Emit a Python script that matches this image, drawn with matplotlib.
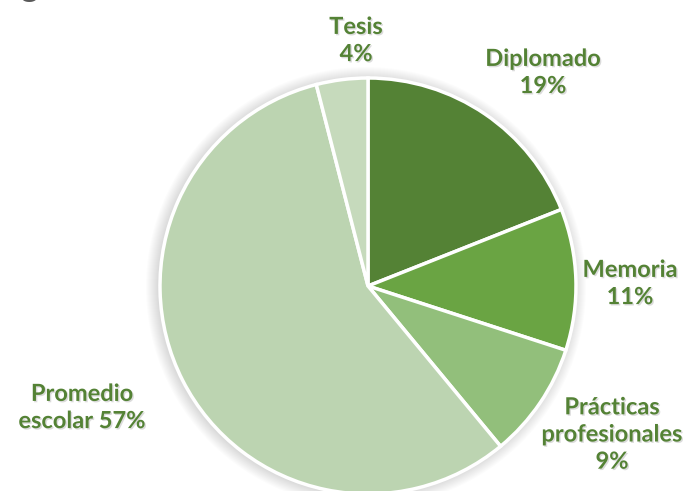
import numpy as np
import matplotlib.pyplot as plt
import matplotlib.patheffects as pe
from matplotlib.patches import Circle

# Modalidades de titulacion (porcentaje)
categorias = ["Diplomado", "Memoria", "Prácticas\nprofesionales", "Promedio\nescolar", "Tesis"]
porcentajes = [19, 11, 9, 57, 4]
separador = ["\n", "\n", "\n", " ", "\n"]
colores = ["#548235", "#6aa443", "#92bf7b", "#bcd4b1", "#c6dabc"]

# label anchor positions in pixels (x, y from top)
pos_etiquetas = [(543, 72), (630, 283), (612, 434), (82, 407), (356, 40)]

W, H = 691, 491
fig = plt.figure(figsize=(W / 100, H / 100), dpi=100)
ax = fig.add_axes([0, 0, 1, 1])

cx, cy, r = 368, H - 286, 208

## soft shadow around the pie
for k in range(12):
    ax.add_patch(Circle((cx - 2, cy - 1), r + 12 - k, color='black',
                        alpha=0.012, lw=0, zorder=0))

ax.pie(porcentajes, colors=colores, startangle=90, counterclock=False,
       center=(cx, cy), radius=r, frame=True,
       wedgeprops=dict(edgecolor='white', linewidth=2.5))
ax.set_xlim(0, W)
ax.set_ylim(0, H)
ax.set_aspect('equal')
ax.axis('off')

sombra = [pe.withSimplePatchShadow(offset=(1, -1), shadow_rgbFace='#999999', alpha=0.35)]
for nombre, val, sep, (x, y) in zip(categorias, porcentajes, separador, pos_etiquetas):
    ax.text(x, H - y, f"{nombre}{sep}{val}%", ha='center', va='center',
            fontsize=17, fontweight='bold', family='Lato', color='#548235',
            linespacing=1.22, path_effects=sombra)

# bottom of the title, cut at the top edge
fig.text(20 / W, 1 + 3 / H, "g", fontsize=24, fontweight='bold', family='Lato',
         color='#595959', ha='left', va='baseline')

fig.savefig('out.png', dpi=100)
